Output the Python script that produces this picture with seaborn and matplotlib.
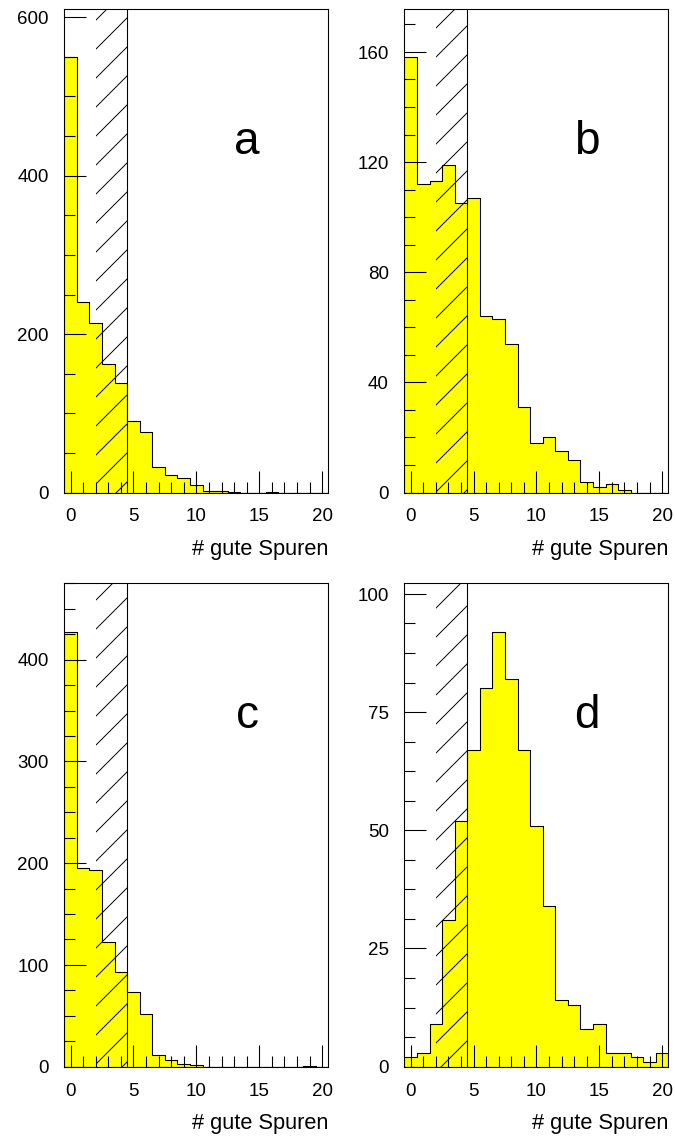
import numpy as np
import pandas as pd
import matplotlib
matplotlib.use("Agg")
import matplotlib.pyplot as plt
import seaborn as sns
from matplotlib.ticker import MultipleLocator, AutoMinorLocator

# ---- data -------------------------------------------------------------
n_tracks = list(range(21))  # bin centres 0..20
counts_a = [550, 240, 214, 162, 138, 90, 76, 32, 22, 19, 10, 2, 2, 1, 0, 0, 1, 0, 0, 0, 0]
counts_b = [158, 112, 113, 119, 105, 107, 64, 63, 54, 31, 18, 20, 15, 12, 4, 2, 3, 1, 0, 0, 0]
counts_c = [427, 195, 193, 123, 93, 73, 52, 11, 7, 3, 2, 0, 0, 0, 0, 0, 0, 0, 0, 1, 0]
counts_d = [2, 3, 9, 31, 52, 67, 80, 92, 82, 67, 51, 34, 14, 13, 8, 9, 3, 3, 2, 1, 3]
panel_labels = ["a", "b", "c", "d"]
y_max = [610.5, 175.6, 475.3, 102.3]
y_major = [200, 40, 100, 25]
x_ticks = [0, 5, 10, 15, 20]
cut_value = 4.5
hatch_start = 2.0
x_label = "# gute Spuren"

# ---- style ------------------------------------------------------------
DPI = 87
W, H = 675, 1141
sns.set_style("ticks")
plt.rcParams["font.family"] = ["Liberation Sans", "DejaVu Sans"]
plt.rcParams["hatch.linewidth"] = 0.8
plt.rcParams["axes.linewidth"] = 0.9
plt.rcParams["axes.axisbelow"] = False
plt.rcParams["text.color"] = "black"
plt.rcParams["axes.labelcolor"] = "black"

fig = plt.figure(figsize=((W + 0.2) / DPI, (H + 0.2) / DPI), dpi=DPI)
fig.patch.set_facecolor("white")

ax_w = 264 / W
ax_h = 483.6 / H
lefts = [64.3 / W, 404.3 / W]
bottoms = [(H - 492.7) / H, (H - 1066.7) / H]

all_counts = [counts_a, counts_b, counts_c, counts_d]

for i, counts in enumerate(all_counts):
    r, c = divmod(i, 2)
    ax = fig.add_axes([lefts[c], bottoms[r], ax_w, ax_h])
    df = pd.DataFrame({"tracks": n_tracks, "n": counts})
    sns.histplot(data=df, x="tracks", weights="n", discrete=True,
                 element="step", fill=True, ax=ax,
                 facecolor="#ffff00", edgecolor="black",
                 alpha=1.0, linewidth=0.9)
    # hatched excluded region and cut line
    ax.axvspan(hatch_start, cut_value, facecolor="none", edgecolor="black",
               hatch="/", linewidth=0, zorder=3)
    ax.axvline(cut_value, color="black", linewidth=0.9, zorder=4)
    ax.set_axisbelow(False)

    ax.set_xlim(-0.5, 20.5)
    ax.set_ylim(0, y_max[i])
    ax.set_xticks(x_ticks)
    ax.xaxis.set_minor_locator(MultipleLocator(1))
    ax.yaxis.set_major_locator(MultipleLocator(y_major[i]))
    ax.yaxis.set_minor_locator(AutoMinorLocator(4))
    ax.tick_params(axis="both", which="major", direction="in", length=18.5,
                   width=0.9, labelsize=15.5, colors="black")
    ax.tick_params(axis="both", which="minor", direction="in", length=9.5,
                   width=0.9, colors="black")
    ax.tick_params(axis="y", which="major", pad=13)
    ax.tick_params(axis="x", which="major", pad=13)
    ax.tick_params(top=False, right=False, which="both")
    for s in ax.spines.values():
        s.set_visible(True)
        s.set_color("black")
        s.set_linewidth(0.9)
        s.set_zorder(5)
    ax.set_ylabel("")
    ax.set_xlabel(x_label, loc="right", fontsize=18, labelpad=11,
                  color="black")
    ax.text(0.692, 0.70, panel_labels[i], transform=ax.transAxes,
            ha="center", va="baseline", fontsize=38, color="black", zorder=5)

fig.savefig("out.png", dpi=DPI, facecolor="white")
